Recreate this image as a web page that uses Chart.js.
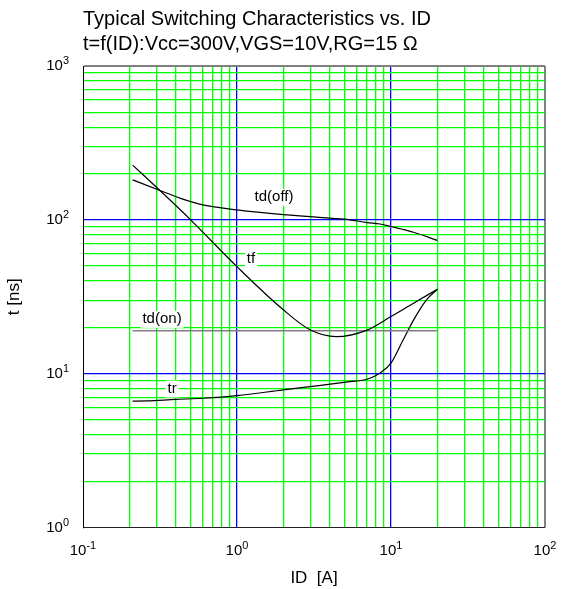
<!DOCTYPE html>
<html><head><meta charset="utf-8">
<script src="https://cdn.jsdelivr.net/npm/chart.js@4.4.1/dist/chart.umd.min.js"></script>
<style>html,body{margin:0;padding:0;background:#fff;} #wrap{width:575px;height:589px;}</style>
</head><body><div id="wrap"><canvas id="c" width="575" height="589"></canvas></div>
<script>
// ---- texts ----
const titleLines = ['Typical Switching Characteristics vs. ID', 't=f(ID):Vcc=300V,VGS=10V,RG=15 \u03A9'];
const xAxisTitle = 'ID  [A]';
const yAxisTitle = 't [ns]';
const curveLabels = ['td(off)', 'tf', 'td(on)', 'tr'];

// ---- ticks (decade labels 10^n) ----
const xTickExponents = [-1, 0, 1, 2];
const yTickExponents = [0, 1, 2, 3];
const xGridValues = [0.1,0.2,0.3,0.4,0.5,0.6,0.7,0.8,0.9,1,2,3,4,5,6,7,8,9,10,20,30,40,50,60,70,80,90,100];
const yGridValues = [1,2,3,4,5,6,7,8,9,10,20,30,40,50,60,70,80,90,100,200,300,400,500,600,700,800,900,1000];

// ---- series (ID in A, t in ns) ----
const idTdOff = [0.21, 0.316, 0.43, 0.6, 1.0, 2.0, 4.0, 5.0, 7.0, 8.5, 10, 14, 20];
const tdOff   = [182, 155, 138, 125, 116, 108, 102.5, 101, 96, 94, 90.5, 83, 73.5];

const idTf = [0.21, 0.316, 0.5, 1.0, 2.0, 3.0, 4.4, 7.0, 10, 14, 20];
const tf   = [227, 155, 100, 49.6, 26, 19.2, 17.4, 19.2, 23.5, 28.7, 35.4];

const idTdOn = [0.21, 20];
const tdOn   = [19, 19];

const idTr = [0.21, 0.26, 0.4, 0.6, 1.0, 2.0, 3.5, 5.4, 7.0, 8.5, 10, 12, 14, 17, 20];
const tr   = [6.62, 6.65, 6.8, 6.92, 7.2, 7.85, 8.4, 8.87, 9.2, 10.1, 11.7, 16.6, 22.3, 30.2, 35.4];

const pts = (xs, ys) => xs.map((x, i) => ({x: x, y: ys[i]}));
const FONT = '"Liberation Sans", Arial, sans-serif';

const labelPlugin = {
  id: 'curveLabelsAndTicks',
  beforeDatasetsDraw(chart, args, opts) {
    const ctx = chart.ctx, xs = chart.scales.x, ys = chart.scales.y;
    ctx.save();
    ctx.font = '15px ' + FONT;
    ctx.textBaseline = 'middle';
    ctx.textAlign = 'center';
    opts.anchors.forEach((p, i) => {
      const px = xs.getPixelForValue(p[0]), py = ys.getPixelForValue(p[1]);
      const w = ctx.measureText(curveLabels[i]).width;
      ctx.fillStyle = '#fff';
      ctx.fillRect(px - w / 2 - 2, py - 8, w + 4, 17);
      ctx.fillStyle = '#000';
      ctx.fillText(curveLabels[i], px, py);
    });
    ctx.restore();
  },
  afterDraw(chart) {
    const ctx = chart.ctx, xs = chart.scales.x, ys = chart.scales.y, area = chart.chartArea;
    ctx.save();
    ctx.fillStyle = '#000';
    ctx.textBaseline = 'middle';
    const baseFont = '15px ' + FONT, expFont = '11px ' + FONT;
    xTickExponents.forEach(e => {
      const px = xs.getPixelForValue(Math.pow(10, e));
      ctx.font = baseFont; const w1 = ctx.measureText('10').width;
      ctx.font = expFont; const w2 = ctx.measureText(String(e)).width;
      const left = px - (w1 + w2) / 2;
      const y = area.bottom + 23.5;
      ctx.textAlign = 'left';
      ctx.font = baseFont; ctx.fillText('10', left, y);
      ctx.font = expFont; ctx.fillText(String(e), left + w1, y - 5);
    });
    yTickExponents.forEach(e => {
      const py = ys.getPixelForValue(Math.pow(10, e));
      const right = area.left - 14;
      ctx.font = expFont; const w2 = ctx.measureText(String(e)).width;
      ctx.textAlign = 'right';
      ctx.fillText(String(e), right, py - 5);
      ctx.font = baseFont; ctx.fillText('10', right - w2, py);
    });
    ctx.restore();
  }
};

const lineDs = (label, data, color, width) => ({
  label: label, data: data, borderColor: color, borderWidth: width,
  pointRadius: 0, fill: false, cubicInterpolationMode: 'monotone'
});

const gridColor = (v, lo, hi, decades) => {
  if (v === lo) return 'rgba(0,0,0,0)';
  if (v === hi) return '#808080';
  if (decades.includes(v)) return '#0000ff';
  return '#00ff00';
};

new Chart(document.getElementById('c'), {
  type: 'line',
  data: {
    datasets: [
      lineDs(curveLabels[0], pts(idTdOff, tdOff), '#000', 1.2),
      lineDs(curveLabels[1], pts(idTf, tf), '#000', 1.2),
      lineDs(curveLabels[2], pts(idTdOn, tdOn), '#7f7f7f', 1.6),
      lineDs(curveLabels[3], pts(idTr, tr), '#000', 1.2)
    ]
  },
  plugins: [labelPlugin],
  options: {
    responsive: false,
    animation: false,
    devicePixelRatio: 1,
    layout: {padding: {left: 0, right: 30, top: 0, bottom: 0}},
    plugins: {
      legend: {display: false},
      tooltip: {enabled: false},
      title: {
        display: true, text: titleLines, align: 'start', fullSize: false,
        color: '#000', font: {family: FONT, size: 20, weight: 'normal', lineHeight: 1.225},
        padding: {top: 7.25, bottom: 9.75}
      },
      curveLabelsAndTicks: {
        anchors: [[1.74, 141], [1.233, 55.7], [0.326, 22.7], [0.379, 8.0]]
      }
    },
    scales: {
      x: {
        type: 'logarithmic', position: 'bottom', min: 0.1, max: 100,
        afterBuildTicks: s => { s.ticks = xGridValues.map(v => ({value: v})); },
        ticks: {display: false},
        grid: {
          drawTicks: false,
          color: c => gridColor(c.tick && c.tick.value, 0.1, 100, [1, 10]),
          lineWidth: c => (c.tick && c.tick.value === 100) ? 2 : 1.3
        },
        border: {display: true, color: '#222', width: 1},
        title: {display: true, text: xAxisTitle, color: '#000',
          font: {family: FONT, size: 17, lineHeight: 1.2}, padding: {top: 41.1, bottom: 0}}
      },
      y: {
        type: 'logarithmic', position: 'left', min: 1, max: 1000,
        afterBuildTicks: s => { s.ticks = yGridValues.map(v => ({value: v})); },
        ticks: {display: false},
        grid: {
          drawTicks: false,
          color: c => gridColor(c.tick && c.tick.value, 1, 1000, [10, 100]),
          lineWidth: c => (c.tick && c.tick.value === 1000) ? 2 : 1.3
        },
        border: {display: true, color: '#000', width: 1},
        title: {display: true, text: yAxisTitle, color: '#000',
          font: {family: FONT, size: 17, lineHeight: 1.2}, padding: {top: 3.8, bottom: 58.8}}
      }
    }
  }
});
</script>
</body></html>
